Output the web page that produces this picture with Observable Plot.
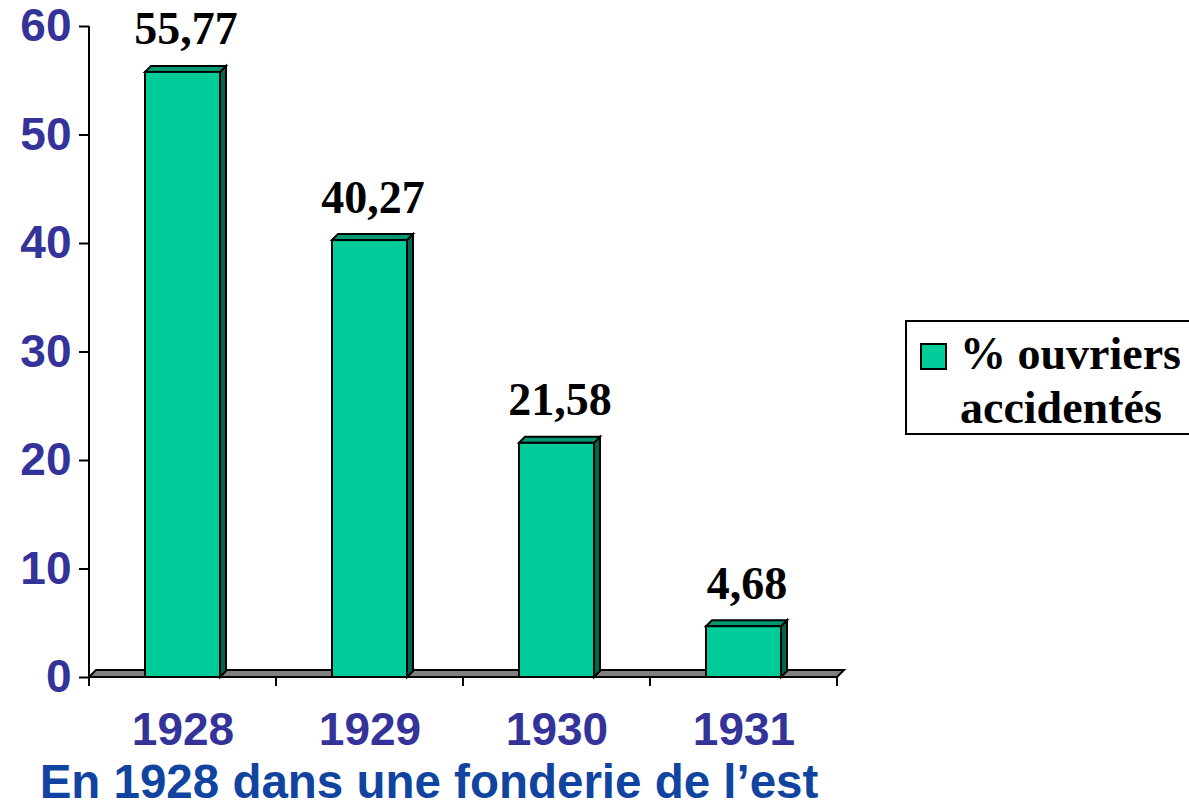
<!DOCTYPE html>
<html>
<head>
<meta charset="utf-8">
<script src="https://cdn.jsdelivr.net/npm/d3@7"></script>
<script src="https://cdn.jsdelivr.net/npm/@observablehq/plot@0.6"></script>
<style>
  html, body { margin: 0; padding: 0; background: #fff; overflow: hidden; }
  #wrap { position: relative; width: 1189px; height: 810px; overflow: hidden; }
  #chart { position: absolute; left: 0; top: 0; }
  #title { position: absolute; left: 0; top: 762px; width: 858px; text-align: center;
    font: bold 47.5px "Liberation Sans", Arial, sans-serif; color: #1044a0; line-height: 40px; white-space: nowrap; }
  #legend { position: absolute; left: 905px; top: 320px; width: 320px; height: 115px;
    border: 2px solid #000; box-sizing: border-box; background: #fff; }
  #legend .sw { position: absolute; left: 13px; top: 21px; width: 27px; height: 27px;
    background: #00CC99; border: 2px solid #000; box-sizing: border-box; }
  #legend .tx { position: absolute; left: 53px; top: 5px; white-space: nowrap; text-align: left;
    font: bold 46px "Liberation Serif", "Times New Roman", serif; line-height: 54px; color: #000; }
</style>
</head>
<body>
<div id="wrap">
  <div id="chart"></div>
  <div id="legend"><div class="sw"></div><div class="tx" id="legendText"></div></div>
  <div id="title"></div>
</div>
<script>
const years = ["1928", "1929", "1930", "1931"];
const values = [55.77, 40.27, 21.58, 4.68];
const yTicks = [0, 10, 20, 30, 40, 50, 60];
const legendLines = ["% ouvriers", "accidentés"];
const titleText = "En 1928 dans une fonderie de l’est";

const data = years.map((year, i) => ({year, value: values[i], label: values[i].toFixed(2).replace(".", ",")}));

const FRONT = "#00CC99", TOP = "#009973", SIDE = "#006650";
const DEPTH = 6, FLOOR_DEPTH = 7;
const svgNS = "http://www.w3.org/2000/svg";

function poly(points, fill) {
  const p = document.createElementNS(svgNS, "polygon");
  p.setAttribute("points", points.map(d => d.join(",")).join(" "));
  p.setAttribute("fill", fill);
  p.setAttribute("stroke", "#000");
  p.setAttribute("stroke-width", 2);
  p.setAttribute("stroke-linejoin", "miter");
  return p;
}
function line(x1, y1, x2, y2, w = 2) {
  const l = document.createElementNS(svgNS, "line");
  l.setAttribute("x1", x1); l.setAttribute("y1", y1);
  l.setAttribute("x2", x2); l.setAttribute("y2", y2);
  l.setAttribute("stroke", "#000"); l.setAttribute("stroke-width", w);
  return l;
}

// Floor, axis line and category boundary ticks (drawn from the plot's scales)
function floorMark(index, scales, values, dims) {
  const g = document.createElementNS(svgNS, "g");
  const x = scales.x, y = scales.y;
  const dom = x.domain();
  const bw = x.bandwidth ? x.bandwidth() : (dims.width - dims.marginLeft - dims.marginRight) / dom.length;
  const x0 = x(dom[0]), x1 = x(dom[dom.length - 1]) + bw;
  const y0 = y(0);
  g.appendChild(poly([[x0, y0], [x1, y0], [x1 + FLOOR_DEPTH, y0 - FLOOR_DEPTH], [x0 + FLOOR_DEPTH, y0 - FLOOR_DEPTH]], "#808080"));
  g.appendChild(line(x0, y(d3.max(yTicks)), x0, y0));
  const bounds = dom.map(d => x(d)).concat([x1]);
  for (const b of bounds) g.appendChild(line(b, y0, b, y0 + 9));
  return g;
}

// 3D bars: front face from Plot.barY, with top and side faces added from the rendered rects
function bars3d(index, scales, values, dims, context, next) {
  const g = next(index, scales, values, dims, context);
  const rects = Array.from(g.querySelectorAll("rect"));
  for (const r of rects) {
    const rx = +r.getAttribute("x"), ry = +r.getAttribute("y");
    const rw = +r.getAttribute("width"), rh = +r.getAttribute("height");
    const top = poly([[rx, ry], [rx + rw, ry], [rx + rw + DEPTH, ry - DEPTH], [rx + DEPTH, ry - DEPTH]], TOP);
    const side = poly([[rx + rw, ry], [rx + rw + DEPTH, ry - DEPTH], [rx + rw + DEPTH, ry + rh - DEPTH], [rx + rw, ry + rh]], SIDE);
    g.insertBefore(side, r);
    g.insertBefore(top, r);
  }
  return g;
}

const chart = Plot.plot({
  width: 1189,
  height: 760,
  marginLeft: 89,
  marginRight: 352,
  marginTop: 26,
  marginBottom: 83,
  style: {background: "transparent"},
  x: {domain: years, padding: 0, label: null},
  y: {domain: [0, 60], label: null},
  marks: [
    floorMark,
    Plot.barY(data, {
      x: "year", y: "value", fill: FRONT, stroke: "#000", strokeWidth: 2,
      insetLeft: 56, insetRight: 56,
      render: bars3d
    }),
    Plot.text(data, {
      x: "year", y: "value", text: "label",
      dx: 3, dy: -28, lineAnchor: "bottom",
      fontFamily: "Liberation Serif, Times New Roman, serif", fontWeight: "bold", fontSize: 46, fill: "#000"
    }),
    Plot.axisY({
      ticks: yTicks, tickFormat: d => String(d), tickSize: 10, tickPadding: 8,
      stroke: "#000", strokeWidth: 2,
      fontFamily: "Liberation Sans, Arial, sans-serif", fontWeight: "bold", fontSize: 46, fill: "#333399",
      label: null
    }),
    Plot.axisX({
      tickSize: 0, tickPadding: 35,
      fontFamily: "Liberation Sans, Arial, sans-serif", fontWeight: "bold", fontSize: 46, fill: "#333399",
      label: null
    })
  ]
});
document.getElementById("chart").appendChild(chart);
const lt = document.getElementById("legendText");
legendLines.forEach((t, i) => { if (i) lt.appendChild(document.createElement("br")); lt.appendChild(document.createTextNode(t)); });
document.getElementById("title").textContent = titleText;
</script>
</body>
</html>
